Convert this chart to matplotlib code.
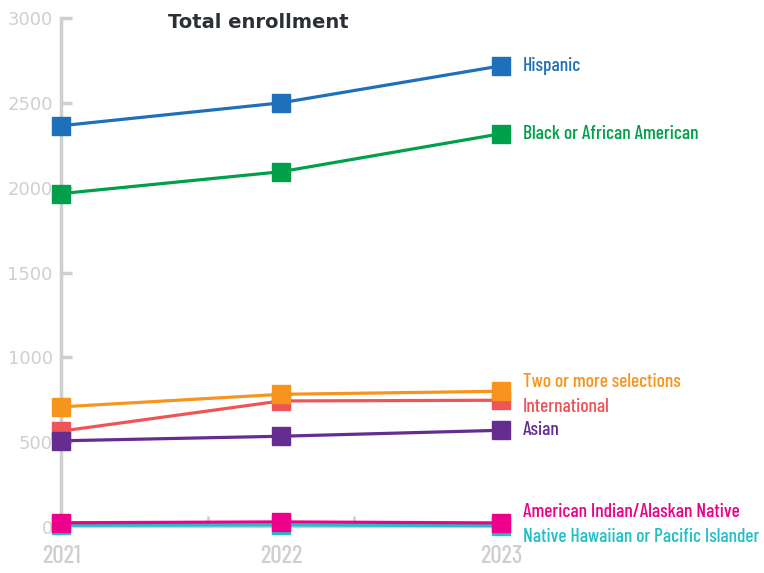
import matplotlib.pyplot as plt

# Данные
years = [2021, 2022, 2023]
groups = ['Hispanic', 'Black or African American', 'Two or more selections',
          'International', 'Asian', 'American Indian/Alaskan Native',
          'Native Hawaiian or Pacific Islander']
hispanic = [2365, 2500, 2718]
black = [1965, 2094, 2318]
two_or_more = [708, 782, 800]
international = [565, 743, 747]
asian = [508, 535, 570]
ai_an = [25, 30, 24]
nh_pi = [10, 12, 8]
series = [hispanic, black, two_or_more, international, asian, ai_an, nh_pi]

colors = ['#1f70ba', '#00a04b', '#f7941d', '#ef5558', '#652d90', '#ec008c', '#22bfc8']
# сдвиг подписей по вертикали (в пунктах)
label_dy = [0, 0, 7, -5, 0, 8, -8]
# порядок отрисовки
zorders = [5, 5, 5, 4, 6, 5, 4]

narrow = ['Barlow Condensed', 'DejaVu Sans']
gray = '#cfcfcf'

fig = plt.figure(figsize=(7.64, 5.73), dpi=100)
ax = fig.add_axes([61 / 764, 46 / 573, 440 / 764, 509 / 573])

for vals, name, c, dy, z in zip(series, groups, colors, label_dy, zorders):
    ax.plot(years, vals, color=c, linewidth=2.3, marker='s', markersize=13,
            clip_on=False, zorder=z)
    ax.annotate(name, xy=(years[-1], vals[-1]), xytext=(16, dy),
                textcoords='offset points', va='center', ha='left',
                color=c, fontsize=14, family=narrow, weight='medium',
                annotation_clip=False)

ax.set_xlim(2021, 2023)
ax.set_ylim(0, 3000)

for s in ['top', 'right']:
    ax.spines[s].set_visible(False)
ax.spines['left'].set_color(gray)
ax.spines['left'].set_linewidth(2.5)
ax.spines['bottom'].set_color(gray)
ax.spines['bottom'].set_linewidth(1.5)

ax.set_yticks([0, 500, 1000, 1500, 2000, 2500, 3000])
ax.tick_params(axis='y', direction='in', length=8, width=2.5, color=gray,
               labelcolor=gray, labelsize=13, pad=6)
ax.set_xticks(years)
ax.set_xticklabels([str(y) for y in years], family=narrow, weight='medium')
ax.set_xticks([2021 + 2 / 3, 2021 + 4 / 3, 2023], minor=True)
ax.tick_params(axis='x', which='major', length=0, labelcolor=gray,
               labelsize=18, pad=13)
ax.tick_params(axis='x', which='minor', direction='in', length=8, width=2,
               color=gray)

fig.text(258 / 764, 1 - 22 / 573, 'Total enrollment', ha='center', va='center',
         fontsize=14, fontweight='bold', color='#2b2f36', family='DejaVu Sans')

plt.savefig('out.png', dpi=100)
plt.close(fig)
